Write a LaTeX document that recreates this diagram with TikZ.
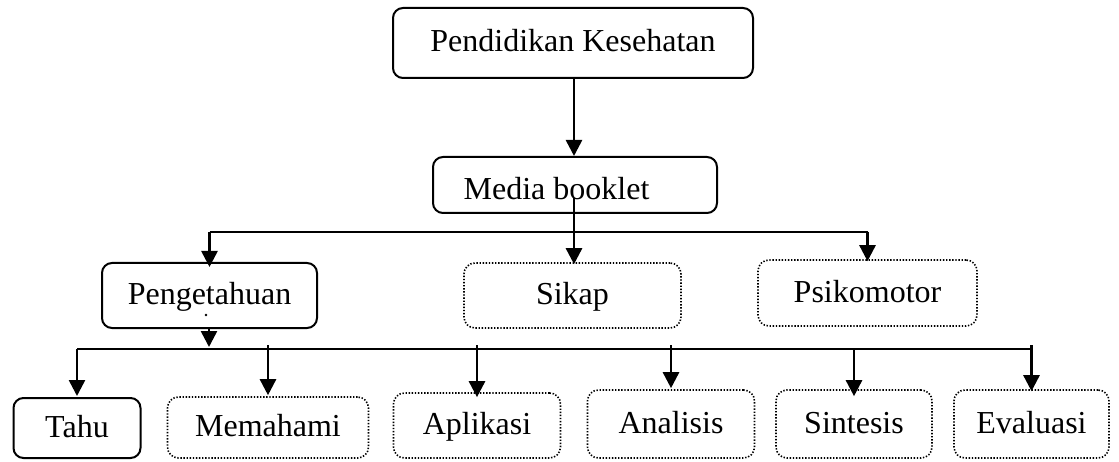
\documentclass[tikz,border=0pt]{standalone}
\usepackage{fontspec}
\setmainfont{Liberation Serif}
\usetikzlibrary{arrows.meta}
\begin{document}
\begin{tikzpicture}[x=1pt,y=-1pt,
 box/.style={draw, rounded corners=10pt, line width=2pt, inner sep=0pt,
   font=\fontsize{32}{36}\selectfont, text height=24pt, text depth=6pt},
 dbox/.style={box, line width=1.6pt, dash pattern=on 1.4pt off 1.7pt, rounded corners=11pt},
 ln/.style={line width=2.6pt},
 arr/.style={ln, -{Triangle[width=16pt,length=16pt]}}]
\useasboundingbox (0,0) rectangle (1119,462);

\node[box, minimum width=360pt, minimum height=70pt] (top) at (573,43) {Pendidikan Kesehatan};
\node[box, minimum width=284pt, minimum height=56pt] (media) at (575,185) {\hspace*{-37pt}\raisebox{-6pt}{Media booklet}};

\node[box,  minimum width=215pt, minimum height=65pt] (peng)  at (209.5,295.5) {Pengetahuan};
\node[dbox, minimum width=217pt, minimum height=65pt] (sikap) at (572.5,295.5) {Sikap};
\node[dbox, minimum width=219pt, minimum height=66pt] (psiko) at (867.5,293) {Psikomotor};

\node[box,  minimum width=127pt, minimum height=60pt] (tahu) at (77,428) {Tahu};
\node[dbox, minimum width=201pt, minimum height=61pt] (mema) at (268,427.5) {Memahami};
\node[dbox, minimum width=167pt, minimum height=65pt] (apli) at (477,425.5) {Aplikasi};
\node[dbox, minimum width=167pt, minimum height=68pt] (anal) at (671,424) {Analisis};
\node[dbox, minimum width=156pt, minimum height=68pt] (sint) at (854,424) {Sintesis};
\node[dbox, minimum width=155pt, minimum height=68pt] (eval) at (1031.5,424) {Evaluasi};

\fill (206,315) circle (1.3pt);

% top to media
\draw[arr] (top.south -| media.north) ++(-1,0) coordinate (t0) -- (t0 |- media.north);

% upper bus
\coordinate (b1) at (574,232);
\draw[ln] ([yshift=16pt]media.south -| b1) -- (b1);
\draw[ln] (b1 -| peng.north) -- (b1 -| psiko.north);
\draw[arr] (b1 -| peng.north) -- ([yshift=-5pt]peng.north);
\draw[arr] (b1) -- ([yshift=-2pt]sikap.north -| b1);
\draw[arr] (b1 -| psiko.north) -- ([yshift=-2pt]psiko.north);

% lower bus
\coordinate (b2) at (209,349);
\draw[arr] (peng.south -| b2) -- ([yshift=2pt]b2);
\draw[ln] (b2 -| tahu.north) -- (b2 -| eval.north);
\draw[arr] (b2 -| tahu.north) -- ([yshift=1pt]tahu.north);
\draw[arr] ([yshift=4pt]b2 -| mema.north) -- ([yshift=1pt]mema.north);
\draw[arr] ([yshift=4pt]b2 -| apli.north) -- ([yshift=-5pt]apli.north);
\draw[arr] ([yshift=4pt]b2 -| anal.north) -- ([yshift=1pt]anal.north);
\draw[arr] (b2 -| sint.north) -- ([yshift=-7pt]sint.north);
\draw[arr] ([yshift=4pt]b2 -| eval.north) -- ([yshift=-2pt]eval.north);
\end{tikzpicture}
\end{document}
